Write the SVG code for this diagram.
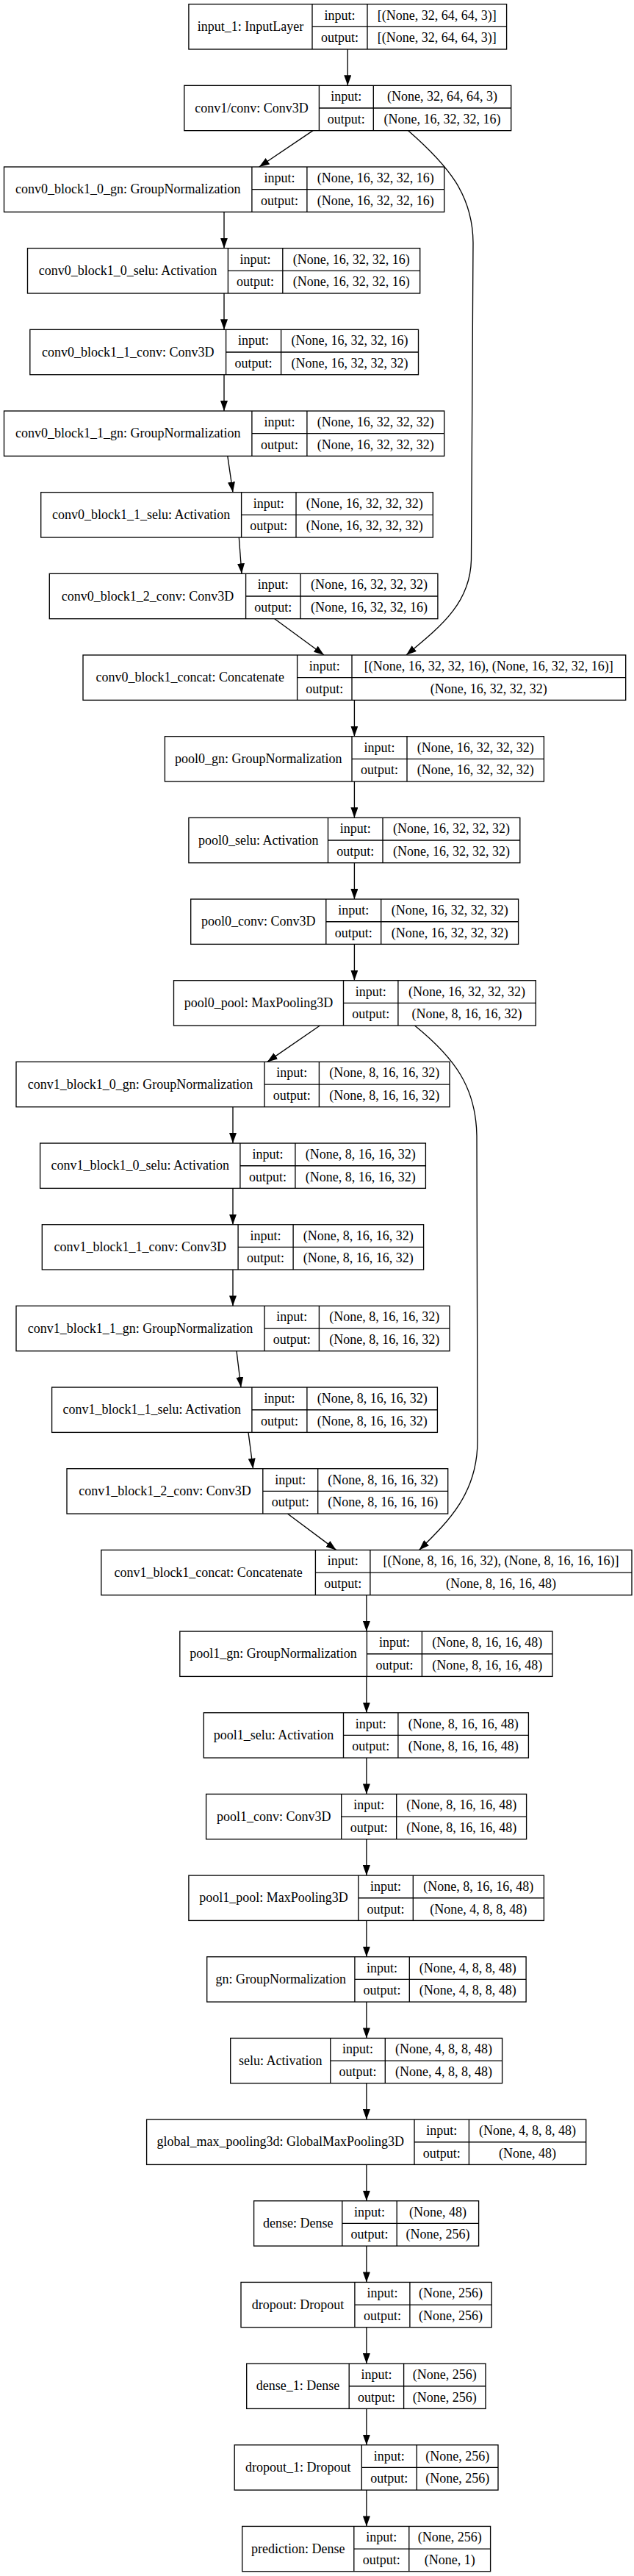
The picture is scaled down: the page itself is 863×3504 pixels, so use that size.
<svg xmlns="http://www.w3.org/2000/svg" width="863" height="3504" viewBox="0 0 863 3504">
<style>
.n rect{fill:#fff;stroke:#000;stroke-width:1.33}
.n path{fill:none;stroke:#000;stroke-width:1.33}
text{font-family:"Liberation Serif","Times New Roman",serif;font-size:18px;text-anchor:middle;fill:#000}
#edges path{fill:none;stroke:#000;stroke-width:1.33;marker-end:url(#ah)}
</style>
<defs>
<marker id="ah" markerUnits="userSpaceOnUse" viewBox="0 0 14 10" markerWidth="14" markerHeight="10" refX="14" refY="5" orient="auto"><path d="M0,0 L14,5 L0,10 z" fill="#000"/></marker>
</defs>
<rect x="0" y="0" width="863" height="3504" fill="#fff"/>
<g id="edges">
<path d="M473.25,67 V116.34"/>
<path d="M426,177.67 L352.8,227.01"/>
<path d="M555.7,177.67 C610,225 643.5,265 644,330 L641.5,760 C641,820 600,852 553,891.03"/>
<path d="M305,288.34 V337.68"/>
<path d="M305,399.01 V448.35"/>
<path d="M305,509.68 V559.02"/>
<path d="M309.8,620.35 L317,669.69"/>
<path d="M325.3,731.02 L329,780.36"/>
<path d="M373.8,841.69 L441,891.03"/>
<path d="M482.4,952.36 V1001.7"/>
<path d="M482.4,1063.03 V1112.37"/>
<path d="M482.4,1173.7 V1223.04"/>
<path d="M482.4,1284.37 V1333.71"/>
<path d="M435.5,1395.04 L363.8,1444.38"/>
<path d="M564.5,1395.04 C620,1440 648,1480 649,1545 L650,1960 C650,2030 612,2068 570.6,2108.4"/>
<path d="M317,1505.71 V1555.05"/>
<path d="M317,1616.38 V1665.72"/>
<path d="M317,1727.05 V1776.39"/>
<path d="M322,1837.72 L328,1887.06"/>
<path d="M338,1948.39 L344.5,1997.73"/>
<path d="M391.4,2059.06 L457.6,2108.4"/>
<path d="M498.9,2169.73 V2219.07"/>
<path d="M498.9,2280.4 V2329.74"/>
<path d="M498.9,2391.07 V2440.41"/>
<path d="M498.9,2501.74 V2551.08"/>
<path d="M498.9,2612.41 V2661.75"/>
<path d="M498.9,2723.08 V2772.42"/>
<path d="M498.9,2833.75 V2883.09"/>
<path d="M498.9,2944.42 V2993.76"/>
<path d="M498.9,3055.09 V3104.43"/>
<path d="M498.9,3165.76 V3215.1"/>
<path d="M498.9,3276.43 V3325.77"/>
<path d="M498.9,3387.1 V3436.44"/>
</g>
<g id="input_1" class="n" transform="translate(0,5.67)"><rect x="256.9" y="0" width="432.7" height="61.33"/><path d="M425,0 V61.33 M500,0 V61.33 M425,30.67 H689.6"/><text x="340.95" y="36.2">input_1: InputLayer</text><text x="462.5" y="20.9">input:</text><text x="462.5" y="51.6">output:</text><text x="594.8" y="20.9">[(None, 32, 64, 64, 3)]</text><text x="594.8" y="51.6">[(None, 32, 64, 64, 3)]</text></g>
<g id="conv1_conv" class="n" transform="translate(0,116.34)"><rect x="250.8" y="0" width="444.9" height="61.33"/><path d="M434.4,0 V61.33 M508.3,0 V61.33 M434.4,30.67 H695.7"/><text x="342.6" y="36.2">conv1/conv: Conv3D</text><text x="471.35" y="20.9">input:</text><text x="471.35" y="51.6">output:</text><text x="602" y="20.9">(None, 32, 64, 64, 3)</text><text x="602" y="51.6">(None, 16, 32, 32, 16)</text></g>
<g id="conv0_block1_0_gn" class="n" transform="translate(0,227.01)"><rect x="5.5" y="0" width="599.2" height="61.33"/><path d="M342.9,0 V61.33 M417.9,0 V61.33 M342.9,30.67 H604.7"/><text x="174.2" y="36.2">conv0_block1_0_gn: GroupNormalization</text><text x="380.4" y="20.9">input:</text><text x="380.4" y="51.6">output:</text><text x="511.3" y="20.9">(None, 16, 32, 32, 16)</text><text x="511.3" y="51.6">(None, 16, 32, 32, 16)</text></g>
<g id="conv0_block1_0_selu" class="n" transform="translate(0,337.68)"><rect x="37.5" y="0" width="534.2" height="61.33"/><path d="M310.4,0 V61.33 M384.8,0 V61.33 M310.4,30.67 H571.7"/><text x="173.95" y="36.2">conv0_block1_0_selu: Activation</text><text x="347.6" y="20.9">input:</text><text x="347.6" y="51.6">output:</text><text x="478.25" y="20.9">(None, 16, 32, 32, 16)</text><text x="478.25" y="51.6">(None, 16, 32, 32, 16)</text></g>
<g id="conv0_block1_1_conv" class="n" transform="translate(0,448.35)"><rect x="40.8" y="0" width="528.7" height="61.33"/><path d="M307.6,0 V61.33 M382.6,0 V61.33 M307.6,30.67 H569.5"/><text x="174.2" y="36.2">conv0_block1_1_conv: Conv3D</text><text x="345.1" y="20.9">input:</text><text x="345.1" y="51.6">output:</text><text x="476.05" y="20.9">(None, 16, 32, 32, 16)</text><text x="476.05" y="51.6">(None, 16, 32, 32, 32)</text></g>
<g id="conv0_block1_1_gn" class="n" transform="translate(0,559.02)"><rect x="5.5" y="0" width="599.2" height="61.33"/><path d="M342.9,0 V61.33 M417.9,0 V61.33 M342.9,30.67 H604.7"/><text x="174.2" y="36.2">conv0_block1_1_gn: GroupNormalization</text><text x="380.4" y="20.9">input:</text><text x="380.4" y="51.6">output:</text><text x="511.3" y="20.9">(None, 16, 32, 32, 32)</text><text x="511.3" y="51.6">(None, 16, 32, 32, 32)</text></g>
<g id="conv0_block1_1_selu" class="n" transform="translate(0,669.69)"><rect x="55.7" y="0" width="533.6" height="61.33"/><path d="M328.6,0 V61.33 M403,0 V61.33 M328.6,30.67 H589.3"/><text x="192.15" y="36.2">conv0_block1_1_selu: Activation</text><text x="365.8" y="20.9">input:</text><text x="365.8" y="51.6">output:</text><text x="496.15" y="20.9">(None, 16, 32, 32, 32)</text><text x="496.15" y="51.6">(None, 16, 32, 32, 32)</text></g>
<g id="conv0_block1_2_conv" class="n" transform="translate(0,780.36)"><rect x="67.3" y="0" width="528.6" height="61.33"/><path d="M334.6,0 V61.33 M409,0 V61.33 M334.6,30.67 H595.9"/><text x="200.95" y="36.2">conv0_block1_2_conv: Conv3D</text><text x="371.8" y="20.9">input:</text><text x="371.8" y="51.6">output:</text><text x="502.45" y="20.9">(None, 16, 32, 32, 32)</text><text x="502.45" y="51.6">(None, 16, 32, 32, 16)</text></g>
<g id="conv0_block1_concat" class="n" transform="translate(0,891.03)"><rect x="113" y="0" width="738.7" height="61.33"/><path d="M404.6,0 V61.33 M479,0 V61.33 M404.6,30.67 H851.7"/><text x="258.8" y="36.2">conv0_block1_concat: Concatenate</text><text x="441.8" y="20.9">input:</text><text x="441.8" y="51.6">output:</text><text x="665.35" y="20.9">[(None, 16, 32, 32, 16), (None, 16, 32, 32, 16)]</text><text x="665.35" y="51.6">(None, 16, 32, 32, 32)</text></g>
<g id="pool0_gn" class="n" transform="translate(0,1001.7)"><rect x="224.4" y="0" width="516" height="61.33"/><path d="M479,0 V61.33 M554,0 V61.33 M479,30.67 H740.4"/><text x="351.7" y="36.2">pool0_gn: GroupNormalization</text><text x="516.5" y="20.9">input:</text><text x="516.5" y="51.6">output:</text><text x="647.2" y="20.9">(None, 16, 32, 32, 32)</text><text x="647.2" y="51.6">(None, 16, 32, 32, 32)</text></g>
<g id="pool0_selu" class="n" transform="translate(0,1112.37)"><rect x="256.9" y="0" width="450.9" height="61.33"/><path d="M446.5,0 V61.33 M521,0 V61.33 M446.5,30.67 H707.8"/><text x="351.7" y="36.2">pool0_selu: Activation</text><text x="483.75" y="20.9">input:</text><text x="483.75" y="51.6">output:</text><text x="614.4" y="20.9">(None, 16, 32, 32, 32)</text><text x="614.4" y="51.6">(None, 16, 32, 32, 32)</text></g>
<g id="pool0_conv" class="n" transform="translate(0,1223.04)"><rect x="259.7" y="0" width="445.9" height="61.33"/><path d="M443.8,0 V61.33 M518.7,0 V61.33 M443.8,30.67 H705.6"/><text x="351.75" y="36.2">pool0_conv: Conv3D</text><text x="481.25" y="20.9">input:</text><text x="481.25" y="51.6">output:</text><text x="612.15" y="20.9">(None, 16, 32, 32, 32)</text><text x="612.15" y="51.6">(None, 16, 32, 32, 32)</text></g>
<g id="pool0_pool" class="n" transform="translate(0,1333.71)"><rect x="236.5" y="0" width="492.8" height="61.33"/><path d="M467.5,0 V61.33 M541.9,0 V61.33 M467.5,30.67 H729.3"/><text x="352" y="36.2">pool0_pool: MaxPooling3D</text><text x="504.7" y="20.9">input:</text><text x="504.7" y="51.6">output:</text><text x="635.6" y="20.9">(None, 16, 32, 32, 32)</text><text x="635.6" y="51.6">(None, 8, 16, 16, 32)</text></g>
<g id="conv1_block1_0_gn" class="n" transform="translate(0,1444.38)"><rect x="22" y="0" width="590" height="61.33"/><path d="M360,0 V61.33 M434.4,0 V61.33 M360,30.67 H612"/><text x="191" y="36.2">conv1_block1_0_gn: GroupNormalization</text><text x="397.2" y="20.9">input:</text><text x="397.2" y="51.6">output:</text><text x="523.2" y="20.9">(None, 8, 16, 16, 32)</text><text x="523.2" y="51.6">(None, 8, 16, 16, 32)</text></g>
<g id="conv1_block1_0_selu" class="n" transform="translate(0,1555.05)"><rect x="54.6" y="0" width="524.8" height="61.33"/><path d="M326.9,0 V61.33 M401.9,0 V61.33 M326.9,30.67 H579.4"/><text x="190.75" y="36.2">conv1_block1_0_selu: Activation</text><text x="364.4" y="20.9">input:</text><text x="364.4" y="51.6">output:</text><text x="490.65" y="20.9">(None, 8, 16, 16, 32)</text><text x="490.65" y="51.6">(None, 8, 16, 16, 32)</text></g>
<g id="conv1_block1_1_conv" class="n" transform="translate(0,1665.72)"><rect x="57.3" y="0" width="519.3" height="61.33"/><path d="M324.1,0 V61.33 M399.1,0 V61.33 M324.1,30.67 H576.6"/><text x="190.7" y="36.2">conv1_block1_1_conv: Conv3D</text><text x="361.6" y="20.9">input:</text><text x="361.6" y="51.6">output:</text><text x="487.85" y="20.9">(None, 8, 16, 16, 32)</text><text x="487.85" y="51.6">(None, 8, 16, 16, 32)</text></g>
<g id="conv1_block1_1_gn" class="n" transform="translate(0,1776.39)"><rect x="22" y="0" width="590" height="61.33"/><path d="M360,0 V61.33 M434.4,0 V61.33 M360,30.67 H612"/><text x="191" y="36.2">conv1_block1_1_gn: GroupNormalization</text><text x="397.2" y="20.9">input:</text><text x="397.2" y="51.6">output:</text><text x="523.2" y="20.9">(None, 8, 16, 16, 32)</text><text x="523.2" y="51.6">(None, 8, 16, 16, 32)</text></g>
<g id="conv1_block1_1_selu" class="n" transform="translate(0,1887.06)"><rect x="70.6" y="0" width="524.8" height="61.33"/><path d="M342.9,0 V61.33 M417.9,0 V61.33 M342.9,30.67 H595.4"/><text x="206.75" y="36.2">conv1_block1_1_selu: Activation</text><text x="380.4" y="20.9">input:</text><text x="380.4" y="51.6">output:</text><text x="506.65" y="20.9">(None, 8, 16, 16, 32)</text><text x="506.65" y="51.6">(None, 8, 16, 16, 32)</text></g>
<g id="conv1_block1_2_conv" class="n" transform="translate(0,1997.73)"><rect x="91" y="0" width="518.7" height="61.33"/><path d="M357.8,0 V61.33 M432.7,0 V61.33 M357.8,30.67 H609.7"/><text x="224.4" y="36.2">conv1_block1_2_conv: Conv3D</text><text x="395.25" y="20.9">input:</text><text x="395.25" y="51.6">output:</text><text x="521.2" y="20.9">(None, 8, 16, 16, 32)</text><text x="521.2" y="51.6">(None, 8, 16, 16, 16)</text></g>
<g id="conv1_block1_concat" class="n" transform="translate(0,2108.4)"><rect x="137.8" y="0" width="722.2" height="61.33"/><path d="M429.4,0 V61.33 M503.9,0 V61.33 M429.4,30.67 H860"/><text x="283.6" y="36.2">conv1_block1_concat: Concatenate</text><text x="466.65" y="20.9">input:</text><text x="466.65" y="51.6">output:</text><text x="681.95" y="20.9">[(None, 8, 16, 16, 32), (None, 8, 16, 16, 16)]</text><text x="681.95" y="51.6">(None, 8, 16, 16, 48)</text></g>
<g id="pool1_gn" class="n" transform="translate(0,2219.07)"><rect x="244.8" y="0" width="507.2" height="61.33"/><path d="M499.4,0 V61.33 M574.4,0 V61.33 M499.4,30.67 H752"/><text x="372.1" y="36.2">pool1_gn: GroupNormalization</text><text x="536.9" y="20.9">input:</text><text x="536.9" y="51.6">output:</text><text x="663.2" y="20.9">(None, 8, 16, 16, 48)</text><text x="663.2" y="51.6">(None, 8, 16, 16, 48)</text></g>
<g id="pool1_selu" class="n" transform="translate(0,2329.74)"><rect x="277.3" y="0" width="442.1" height="61.33"/><path d="M467.5,0 V61.33 M541.9,0 V61.33 M467.5,30.67 H719.4"/><text x="372.4" y="36.2">pool1_selu: Activation</text><text x="504.7" y="20.9">input:</text><text x="504.7" y="51.6">output:</text><text x="630.65" y="20.9">(None, 8, 16, 16, 48)</text><text x="630.65" y="51.6">(None, 8, 16, 16, 48)</text></g>
<g id="pool1_conv" class="n" transform="translate(0,2440.41)"><rect x="280.6" y="0" width="436" height="61.33"/><path d="M464.7,0 V61.33 M539.7,0 V61.33 M464.7,30.67 H716.6"/><text x="372.65" y="36.2">pool1_conv: Conv3D</text><text x="502.2" y="20.9">input:</text><text x="502.2" y="51.6">output:</text><text x="628.15" y="20.9">(None, 8, 16, 16, 48)</text><text x="628.15" y="51.6">(None, 8, 16, 16, 48)</text></g>
<g id="pool1_pool" class="n" transform="translate(0,2551.08)"><rect x="256.9" y="0" width="483.5" height="61.33"/><path d="M487.9,0 V61.33 M562.3,0 V61.33 M487.9,30.67 H740.4"/><text x="372.4" y="36.2">pool1_pool: MaxPooling3D</text><text x="525.1" y="20.9">input:</text><text x="525.1" y="51.6">output:</text><text x="651.35" y="20.9">(None, 8, 16, 16, 48)</text><text x="651.35" y="51.6">(None, 4, 8, 8, 48)</text></g>
<g id="gn" class="n" transform="translate(0,2661.75)"><rect x="281.7" y="0" width="434.4" height="61.33"/><path d="M482.9,0 V61.33 M557.3,0 V61.33 M482.9,30.67 H716.1"/><text x="382.3" y="36.2">gn: GroupNormalization</text><text x="520.1" y="20.9">input:</text><text x="520.1" y="51.6">output:</text><text x="636.7" y="20.9">(None, 4, 8, 8, 48)</text><text x="636.7" y="51.6">(None, 4, 8, 8, 48)</text></g>
<g id="selu" class="n" transform="translate(0,2772.42)"><rect x="313.7" y="0" width="369.9" height="61.33"/><path d="M449.8,0 V61.33 M524.3,0 V61.33 M449.8,30.67 H683.6"/><text x="381.75" y="36.2">selu: Activation</text><text x="487.05" y="20.9">input:</text><text x="487.05" y="51.6">output:</text><text x="603.95" y="20.9">(None, 4, 8, 8, 48)</text><text x="603.95" y="51.6">(None, 4, 8, 8, 48)</text></g>
<g id="global_max_pooling3d" class="n" transform="translate(0,2883.09)"><rect x="199.6" y="0" width="598.1" height="61.33"/><path d="M564,0 V61.33 M638.4,0 V61.33 M564,30.67 H797.7"/><text x="381.8" y="36.2">global_max_pooling3d: GlobalMaxPooling3D</text><text x="601.2" y="20.9">input:</text><text x="601.2" y="51.6">output:</text><text x="718.05" y="20.9">(None, 4, 8, 8, 48)</text><text x="718.05" y="51.6">(None, 48)</text></g>
<g id="dense" class="n" transform="translate(0,2993.76)"><rect x="345.6" y="0" width="306" height="61.33"/><path d="M465.8,0 V61.33 M540.2,0 V61.33 M465.8,30.67 H651.6"/><text x="405.7" y="36.2">dense: Dense</text><text x="503" y="20.9">input:</text><text x="503" y="51.6">output:</text><text x="595.9" y="20.9">(None, 48)</text><text x="595.9" y="51.6">(None, 256)</text></g>
<g id="dropout" class="n" transform="translate(0,3104.43)"><rect x="328" y="0" width="341.2" height="61.33"/><path d="M482.9,0 V61.33 M557.9,0 V61.33 M482.9,30.67 H669.2"/><text x="405.45" y="36.2">dropout: Dropout</text><text x="520.4" y="20.9">input:</text><text x="520.4" y="51.6">output:</text><text x="613.55" y="20.9">(None, 256)</text><text x="613.55" y="51.6">(None, 256)</text></g>
<g id="dense_1" class="n" transform="translate(0,3215.1)"><rect x="335.7" y="0" width="325.3" height="61.33"/><path d="M475.2,0 V61.33 M549.6,0 V61.33 M475.2,30.67 H661"/><text x="405.45" y="36.2">dense_1: Dense</text><text x="512.4" y="20.9">input:</text><text x="512.4" y="51.6">output:</text><text x="605.3" y="20.9">(None, 256)</text><text x="605.3" y="51.6">(None, 256)</text></g>
<g id="dropout_1" class="n" transform="translate(0,3325.77)"><rect x="319.2" y="0" width="358.8" height="61.33"/><path d="M492.3,0 V61.33 M567.3,0 V61.33 M492.3,30.67 H678"/><text x="405.75" y="36.2">dropout_1: Dropout</text><text x="529.8" y="20.9">input:</text><text x="529.8" y="51.6">output:</text><text x="622.65" y="20.9">(None, 256)</text><text x="622.65" y="51.6">(None, 256)</text></g>
<g id="prediction" class="n" transform="translate(0,3436.44)"><rect x="329.7" y="0" width="337.9" height="61.33"/><path d="M481.8,0 V61.33 M556.8,0 V61.33 M481.8,30.67 H667.6"/><text x="405.75" y="36.2">prediction: Dense</text><text x="519.3" y="20.9">input:</text><text x="519.3" y="51.6">output:</text><text x="612.2" y="20.9">(None, 256)</text><text x="612.2" y="51.6">(None, 1)</text></g>
</svg>
